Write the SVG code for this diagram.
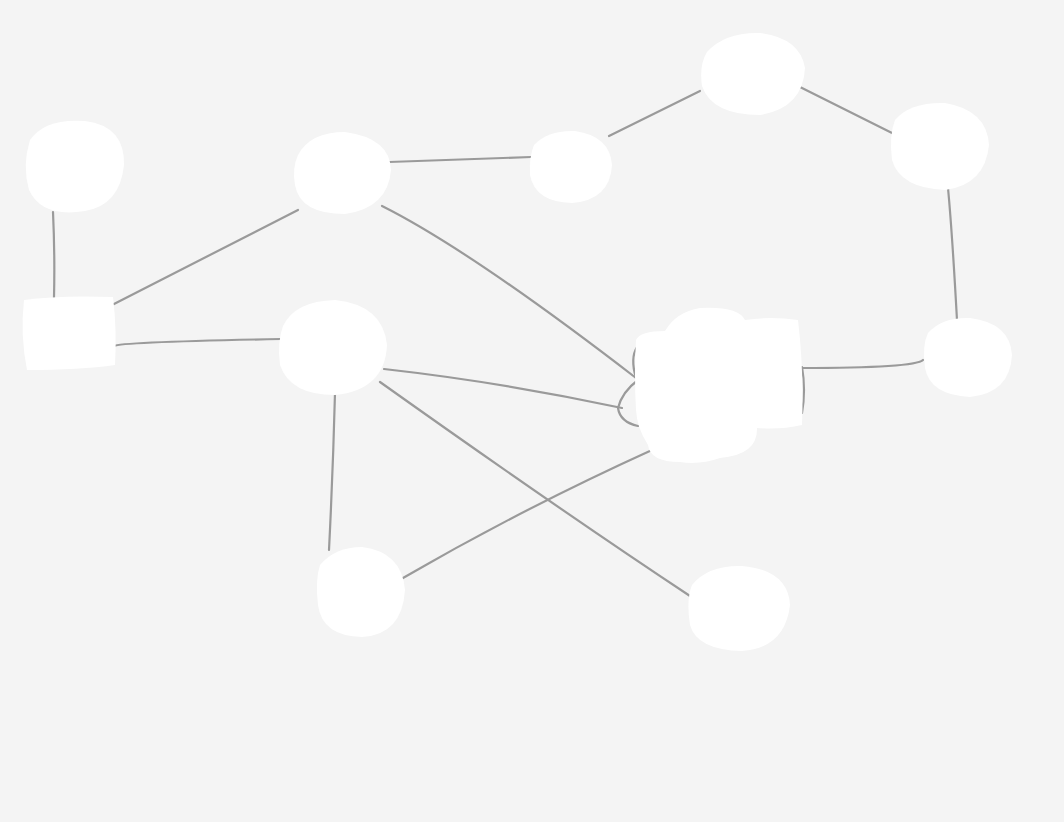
<svg xmlns="http://www.w3.org/2000/svg" width="1064" height="822" viewBox="0 0 1064 822">
<style>
.e{fill:none;stroke:#9a9a9a;stroke-width:2.2;stroke-linecap:round}
.n{fill:#ffffff;stroke:none}
</style>
<rect width="1064" height="822" fill="#f4f4f4"/>
<g id="connectors">
<path class="e" d="M53,212 Q55,255 54,298"/>
<path class="e" d="M114,304 L298,210"/>
<path class="e" d="M114,346 Q120,342 281,339"/>
<path class="e" d="M389,162 L531,157"/>
<path class="e" d="M609,136 L700,91"/>
<path class="e" d="M800,87 L892,133"/>
<path class="e" d="M948,188 Q952,230 957,320"/>
<path class="e" d="M923,360 Q915,368 800,368"/>
<path class="e" d="M382,206 Q470,250 636,378"/>
<path class="e" d="M384,369 Q500,382 622,408"/>
<path class="e" d="M380,382 Q560,510 690,596"/>
<path class="e" d="M335,393 Q333,470 329,550"/>
<path class="e" d="M403,578 Q520,510 652,450"/>
<path class="e" d="M637,347 Q630,358 636,378"/>
<path class="e" d="M638,380 Q622,392 618,408 Q620,422 638,426"/>
<path class="e" d="M802,367 Q806,390 802,413"/>
</g>
<g id="n1"><path class="n" d="M30,140 Q45,118 85,121 Q125,126 124,165 Q120,205 85,211 Q42,218 29,190 Q22,165 30,140Z"/></g>
<g id="n2"><path class="n" d="M24,300 Q60,295 113,297 Q117,330 115,365 Q80,370 27,370 Q20,335 24,300Z"/></g>
<g id="n3"><path class="n" d="M298,155 Q310,132 345,132 Q390,138 391,170 Q388,208 345,214 Q300,214 295,185 Q292,168 298,155Z"/></g>
<g id="n4"><path class="n" d="M534,145 Q548,130 575,131 Q610,136 612,165 Q610,200 572,203 Q535,202 530,175 Q529,157 534,145Z"/></g>
<g id="n5"><path class="n" d="M707,52 Q725,32 760,33 Q800,38 805,68 Q803,108 760,115 Q712,115 702,86 Q699,65 707,52Z"/></g>
<g id="n6"><path class="n" d="M895,120 Q910,102 945,103 Q987,110 989,145 Q985,185 945,190 Q900,188 892,160 Q889,135 895,120Z"/></g>
<g id="n7"><path class="n" d="M928,333 Q942,317 970,318 Q1010,323 1012,355 Q1010,393 970,397 Q930,395 925,368 Q922,345 928,333Z"/></g>
<g id="n8"><path class="n" d="M636,340 Q640,331 665,331 Q676,312 700,308 Q738,306 745,320 Q770,316 798,320 Q804,370 802,425 Q780,430 757,428 Q758,455 720,458 Q700,465 680,462 Q650,462 648,445 Q637,428 636,410 Q634,375 636,340Z"/></g>
<g id="n9"><path class="n" d="M283,326 Q295,301 335,300 Q383,305 387,345 Q385,390 335,395 Q290,395 280,365 Q277,342 283,326Z"/></g>
<g id="n10"><path class="n" d="M320,565 Q335,547 362,547 Q402,552 405,590 Q402,635 362,637 Q322,636 318,605 Q315,580 320,565Z"/></g>
<g id="n11"><path class="n" d="M692,585 Q708,565 742,566 Q788,570 790,605 Q785,648 742,651 Q697,650 690,625 Q686,600 692,585Z"/></g>
</svg>
